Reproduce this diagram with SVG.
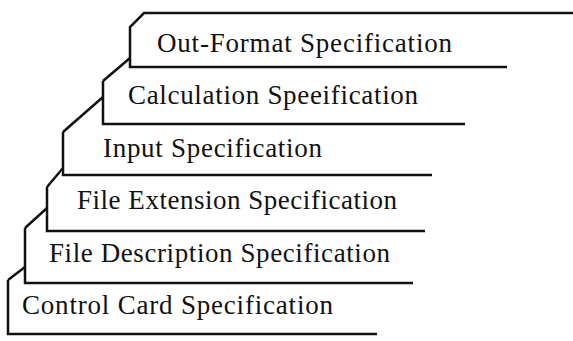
<svg xmlns="http://www.w3.org/2000/svg" width="573" height="341" viewBox="0 0 573 341">
<style>
.ln{fill:none;stroke:#111;stroke-width:2.5;stroke-linejoin:miter;stroke-linecap:butt}
.t{font-family:"Liberation Serif","Times New Roman",serif;font-size:27px;fill:#111}
</style>
<rect width="573" height="341" fill="#fff"/>
<g id="connectors">
<path class="ln" d="M130 58 L103 81"/>
<path class="ln" d="M103 97 L63 132"/>
<path class="ln" d="M63 168 L47 187"/>
<path class="ln" d="M47 208 L25 228"/>
<path class="ln" d="M25 267 L8 280"/>
</g>
<g id="out-format">
<path class="ln" d="M573 13 H144 L130 27 V67 H507"/>
<text class="t" x="157" y="52" textLength="295" lengthAdjust="spacing">Out-Format Specification</text>
</g>
<g id="calculation">
<path class="ln" d="M103 81 V124 H465"/>
<text class="t" x="128" y="104" textLength="290" lengthAdjust="spacing">Calculation Speeification</text>
</g>
<g id="input">
<path class="ln" d="M63 132 V175 H432"/>
<text class="t" x="103" y="157" textLength="219" lengthAdjust="spacing">Input Specification</text>
</g>
<g id="file-extension">
<path class="ln" d="M47 187 V231 H425"/>
<text class="t" x="77" y="209" textLength="320" lengthAdjust="spacing">File Extension Specification</text>
</g>
<g id="file-description">
<path class="ln" d="M25 228 V283 H413"/>
<text class="t" x="49" y="262" textLength="341" lengthAdjust="spacing">File Description Specification</text>
</g>
<g id="control-card">
<path class="ln" d="M8 280 V334 H377"/>
<text class="t" x="22" y="314" textLength="311" lengthAdjust="spacing">Control Card Specification</text>
</g>
</svg>
